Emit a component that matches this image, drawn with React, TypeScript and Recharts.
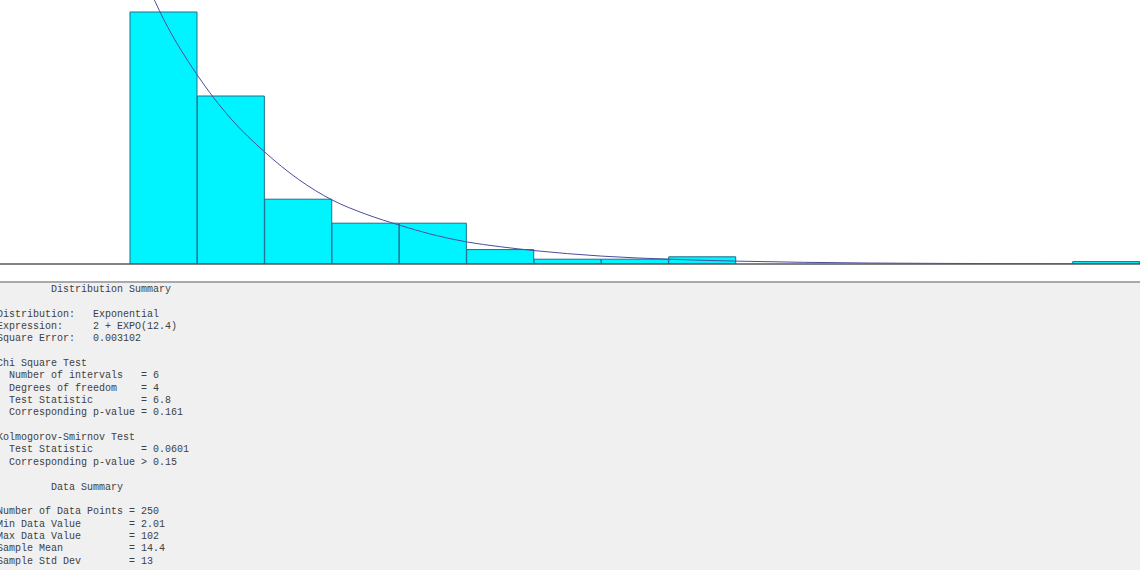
import React from "react";
import { ComposedChart, Bar, Line, XAxis, YAxis, ReferenceLine } from "recharts";

// Histogram bins (mid-points of 15 equal-width intervals from 2 to 102)
const binMids = [5.33, 12, 18.67, 25.33, 32, 38.67, 45.33, 52, 58.67, 65.33, 72, 78.67, 85.33, 92, 98.67];
const binCounts = [105, 70, 27, 17, 17, 6, 2, 2, 3, 0, 0, 0, 0, 0, 1];

// Fitted density curve (same units as counts)
const curveX = [2, 5.33, 8.67, 12, 15.33, 18.67, 22, 25.33, 28.67, 32, 35.33, 38.67, 42, 48.67, 55.33, 62, 68.67, 75.33, 82, 88.67, 95.33, 102];
const curveY = [134, 102, 78.7, 60.5, 46.7, 35.3, 26.7, 20.8, 16.2, 12.2, 9.2, 7.2, 5.6, 3.3, 2, 1.2, 0.7, 0.4, 0.25, 0.15, 0.1, 0.05];

const summaryLines = [
  "         Distribution Summary",
  "",
  "Distribution:   Exponential",
  "Expression:     2 + EXPO(12.4)",
  "Square Error:   0.003102",
  "",
  "Chi Square Test",
  "  Number of intervals   = 6",
  "  Degrees of freedom    = 4",
  "  Test Statistic        = 6.8",
  "  Corresponding p-value = 0.161",
  "",
  "Kolmogorov-Smirnov Test",
  "  Test Statistic        = 0.0601",
  "  Corresponding p-value > 0.15",
  "",
  "         Data Summary",
  "",
  "Number of Data Points = 250",
  "Min Data Value        = 2.01",
  "Max Data Value        = 102",
  "Sample Mean           = 14.4",
  "Sample Std Dev        = 13",
];

const barData = binMids.map((m, i) => ({ mid: m, count: binCounts[i] }));
const curveData = curveX.map((x, i) => ({ x, density: curveY[i] }));

const X_DOMAIN: [number, number] = [-10.87, 102];

export default function App() {
  return (
    <div style={{ position: "fixed", left: 0, top: 0, width: 1140, height: 570, background: "#ffffff", overflow: "hidden" }}>
      <div style={{ position: "absolute", left: 0, top: 0 }}>
        <ComposedChart width={1140} height={265} data={barData} margin={{ top: 0, right: 0, bottom: 1, left: 0 }} barCategoryGap={0} barGap={0}>
          <XAxis xAxisId="b" dataKey="mid" type="number" domain={X_DOMAIN} allowDataOverflow hide />
          <XAxis xAxisId="c" dataKey="x" type="number" domain={X_DOMAIN} allowDataOverflow hide />
          <YAxis domain={[0, 110]} allowDataOverflow hide />
          <Bar xAxisId="b" dataKey="count" fill="#00f4ff" stroke="#1f6e8c" strokeWidth={1} isAnimationActive={false} />
          <Line xAxisId="c" data={curveData} dataKey="density" type="monotone" stroke="#4c4c9a" strokeWidth={1} dot={false} activeDot={false} isAnimationActive={false} />
          <ReferenceLine xAxisId="b" y={0} stroke="#5a5a5a" strokeWidth={1.5} />
        </ComposedChart>
      </div>
      <div style={{ position: "absolute", left: 0, top: 281, width: 1140, height: 2, background: "#a9a9a9" }} />
      <div style={{ position: "absolute", left: 0, top: 283, width: 1140, height: 287, background: "#f0f0f0" }} />
      <pre
        style={{
          position: "absolute",
          left: -3,
          top: 283.8,
          margin: 0,
          fontFamily: "'Liberation Mono', 'DejaVu Sans Mono', monospace",
          fontSize: 10,
          lineHeight: "12.36px",
          color: "#404040",
        }}
      >
        {summaryLines.join("\n")}
      </pre>
    </div>
  );
}
